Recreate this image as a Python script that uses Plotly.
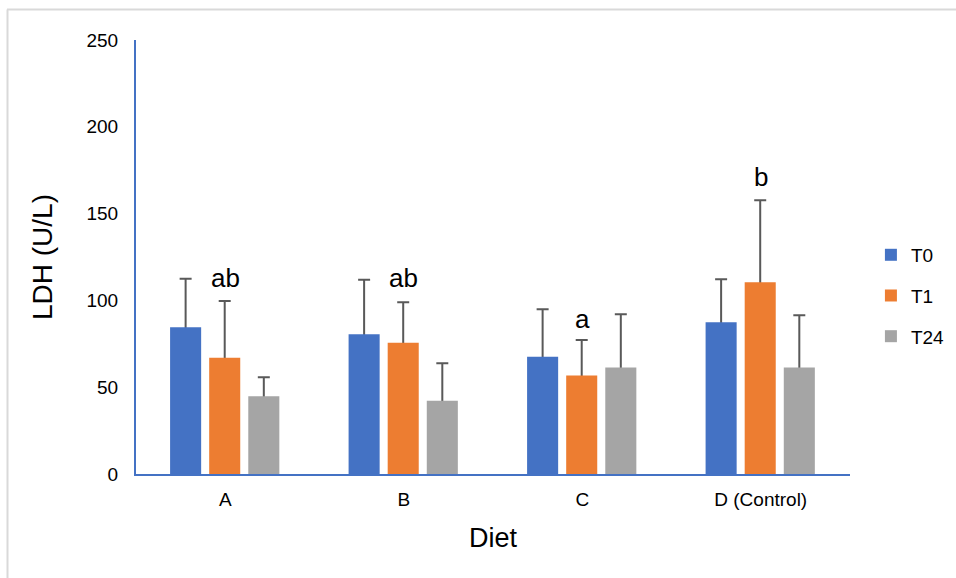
import plotly.graph_objects as go

categories = ["A", "B", "C", "D (Control)"]
series_names = ["T0", "T1", "T24"]
t0_values = [84.5, 80.5, 67.6, 87.4]
t1_values = [67.0, 75.6, 56.8, 110.4]
t24_values = [44.8, 42.2, 61.4, 61.4]
t0_errors = [28.0, 31.4, 27.3, 24.8]
t1_errors = [32.7, 23.3, 20.4, 47.3]
t24_errors = [10.9, 21.6, 30.6, 30.0]
sig_labels = ["ab", "ab", "a", "b"]
sig_label_y = [113, 113, 89.5, 171]
y_ticks = [0, 50, 100, 150, 200, 250]

colors = ["#4472C4", "#ED7D31", "#A5A5A5"]
values = [t0_values, t1_values, t24_values]
errors = [t0_errors, t1_errors, t24_errors]
bar_width = 0.174
bar_offsets = [-0.309, -0.090, 0.129]

fig = go.Figure()
# error bars first (drawn underneath the bars; lower whisker hidden by bar)
for name, vals, errs, off in zip(series_names, values, errors, bar_offsets):
    fig.add_trace(go.Bar(
        x=categories, y=vals, name=name, showlegend=False, hoverinfo="skip",
        offset=off, width=bar_width,
        marker=dict(color="rgba(0,0,0,0)", line=dict(width=0)),
        error_y=dict(type="data", array=errs, symmetric=False, arrayminus=vals,
                     color="#595959", thickness=2, width=6),
    ))
for name, vals, col, off in zip(series_names, values, colors, bar_offsets):
    fig.add_trace(go.Bar(
        x=categories, y=vals, name=name, legendgroup=name,
        offset=off, width=bar_width,
        marker=dict(color=col, line=dict(width=0)),
    ))

for cat, lab, yv in zip(categories, sig_labels, sig_label_y):
    fig.add_annotation(x=cat, y=yv, text=lab, showarrow=False,
                       font=dict(family="Liberation Sans, Arial", size=26, color="black"),
                       xanchor="center", yanchor="middle")

# outer frame lines (top and left)
fig.add_shape(type="line", xref="paper", yref="paper",
              x0=(7 - 136) / 714, x1=(960 - 136) / 714,
              y0=(474 - 9.5) / 434, y1=(474 - 9.5) / 434,
              line=dict(color="#D9D9D9", width=2))
fig.add_shape(type="line", xref="paper", yref="paper",
              x0=(7.5 - 136) / 714, x1=(7.5 - 136) / 714,
              y0=(474 - 9.5) / 434, y1=(474 - 600) / 434,
              line=dict(color="#D9D9D9", width=2))

fig.update_layout(
    width=956, height=578,
    margin=dict(l=136, r=106, t=40, b=104, autoexpand=False),
    paper_bgcolor="white", plot_bgcolor="white",
    barmode="overlay",
    font=dict(family="Liberation Sans, Arial", color="black"),
    showlegend=True,
    legend=dict(xref="container", yref="container", x=0.911, y=0.488,
                xanchor="left", yanchor="middle",
                font=dict(size=19, color="black"), tracegroupgap=13,
                bgcolor="rgba(0,0,0,0)"),
    xaxis=dict(title=dict(text="Diet", font=dict(size=27), standoff=19),
               showline=True, linecolor="#4472C4", linewidth=2,
               ticks="", tickfont=dict(size=19), showgrid=False,
               ticklabelstandoff=7, range=[-0.5, 3.5]),
    yaxis=dict(title=dict(text="LDH (U/L)", font=dict(size=28), standoff=26),
               range=[0, 250], tickvals=y_ticks, showline=True,
               linecolor="#4472C4", linewidth=2, ticks="", showgrid=False,
               ticklabelstandoff=12, tickfont=dict(size=19), zeroline=False),
)

fig.write_html("out.html", post_script="document.body.style.margin='0';",
               config={"displayModeBar": False})
